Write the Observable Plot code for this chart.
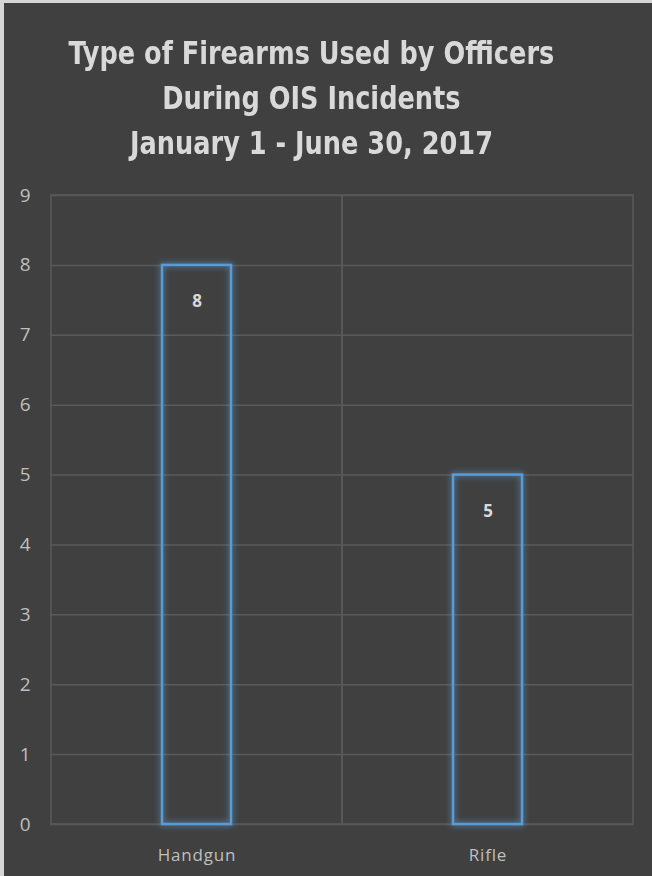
<!DOCTYPE html>
<html>
<head>
<meta charset="utf-8">
<script src="https://cdn.jsdelivr.net/npm/d3@7"></script>
<script src="https://cdn.jsdelivr.net/npm/@observablehq/plot@0.6"></script>
<style>
  html, body { margin: 0; padding: 0; background: #404040; }
  #wrap {
    position: relative;
    width: 648px; height: 873px;
    background: #404040;
    border-left: 4px solid #d6d6d6;
    border-top: 3px solid #d6d6d6;
    overflow: hidden;
  }
  #title {
    position: absolute; left: 0; top: 28px; width: 615px;
    text-align: center;
    font-family: "Liberation Sans Narrow", "DejaVu Sans Condensed", sans-serif;
    font-weight: bold; font-size: 32px; line-height: 45px;
    color: #d9d9d9;
    transform: scaleX(0.89);
    transform-origin: 307px 0;
  }
  #chart { position: absolute; left: 0; top: 0; }
  g[aria-label="bar"].glow rect { filter: drop-shadow(0 0 3px rgba(91,155,213,1)); }
  g[aria-label="x-axis tick label"] text { letter-spacing: 0.8px; }
</style>
</head>
<body>
<div id="wrap">
  <div id="chart"></div>
  <div id="title">Type of Firearms Used by Officers<br>During OIS Incidents<br>January 1 - June 30, 2017</div>
</div>
<script>
const categories = ["Handgun", "Rifle"];
const values = [8, 5];
const yTicks = [0, 1, 2, 3, 4, 5, 6, 7, 8, 9];
const yMax = 9;

const data = categories.map((c, i) => ({category: c, value: values[i]}));

const plot = Plot.plot({
  width: 648,
  height: 873,
  marginTop: 192,
  marginBottom: 52,
  marginLeft: 46,
  marginRight: 19,
  style: {background: "transparent", color: "#bfbfbf"},
  x: {domain: categories, padding: 0, label: null},
  y: {domain: [0, yMax], label: null},
  marks: [
    Plot.ruleY(yTicks, {stroke: "#5a5a5a", strokeWidth: 1.5}),
    Plot.barY(categories, {x: d => d, y: () => yMax, fill: "none", stroke: "#5a5a5a", strokeWidth: 1.5}),
    Plot.barY(data, {x: "category", y: "value", fill: "none", stroke: "#5b9bd5", strokeWidth: 2.5, insetLeft: 111, insetRight: 111}),
    Plot.text(data, {x: "category", y: "value", text: d => String(d.value), dy: 36, fill: "#d9d9d9", fontWeight: "bold", fontSize: 17, fontFamily: "Open Sans, sans-serif"}),
    Plot.axisY(yTicks, {tickSize: 0, tickPadding: 20, fontSize: 19, fill: "#bfbfbf", fontFamily: "Open Sans, sans-serif", tickFormat: d3.format("d"), label: null}),
    Plot.axisX({tickSize: 0, tickPadding: 24, fontSize: 17, fill: "#bfbfbf", fontFamily: "Open Sans, sans-serif", label: null})
  ]
});
plot.querySelectorAll('g[aria-label="bar"]').forEach((g, i) => { if (i === 1) g.classList.add("glow"); });
document.getElementById("chart").appendChild(plot);
</script>
</body>
</html>
